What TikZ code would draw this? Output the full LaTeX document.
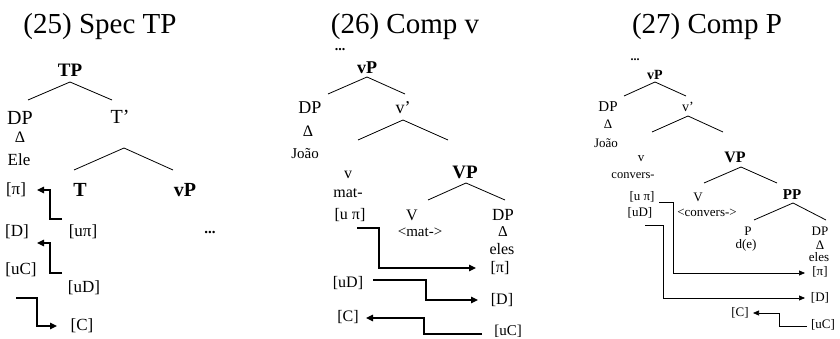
\documentclass[tikz,border=0pt]{standalone}
\usepackage{fontspec}
\setmainfont{Liberation Serif}
\usetikzlibrary{arrows.meta}
\newcommand{\fs}[1]{\fontsize{#1}{#1}\selectfont}
\begin{document}
\begin{tikzpicture}[x=1pt,y=-1pt,
  lbl/.style={inner sep=0pt, anchor=center},
  ttl/.style={lbl, font=\fs{29}},
  br/.style={line width=0.8pt},
  fa/.style={line width=1.1pt, -{Triangle[length=7pt,width=6.5pt]}},
  fb/.style={line width=0.7pt, -{Triangle[length=6pt,width=5pt]}}]
\useasboundingbox (0,0) rectangle (840,339);
% ---------------- Panel 1 ----------------
\node[ttl] (t1) at (100,27) {(25) Spec TP};
\node[lbl, font=\fs{19}\bfseries] (TP) at (70,70) {TP};
\node[lbl, font=\fs{20}] (DPa) at (20,118) {DP};
\node[lbl, font=\fs{20}] (Tbar) at (120,117) {T’};
\node[lbl, font=\fs{16}] (Da) at (20,137) {Δ};
\node[lbl, font=\fs{17}] (Ele) at (19,160) {Ele};
\node[lbl, font=\fs{20}\bfseries] (T) at (80,190) {T};
\node[lbl, font=\fs{20}\bfseries] (vPa) at (185,190) {vP};
\node[lbl, font=\fs{17}] (pia) at (16,190) {[π]};
\node[lbl, font=\fs{17}] (Dfa) at (17,232) {[D]};
\node[lbl, font=\fs{17}] (upia) at (83,232) {[uπ]};
\node[lbl, font=\fs{15}\bfseries] (dotsa) at (210,232) {...};
\node[lbl, font=\fs{17}] (uCa) at (21,270) {[uC]};
\node[lbl, font=\fs{17}] (uDa) at (84,288) {[uD]};
\node[lbl, font=\fs{17}] (Ca) at (82,326) {[C]};
\coordinate (TPa) at (70,82); \coordinate (TPl) at (28,100); \coordinate (TPr) at (112,100);
\coordinate (Tba) at (124,148); \coordinate (Tbl) at (74,170); \coordinate (Tbr) at (173,170);
\draw[br] (TPl) -- (TPa) -- (TPr);
\draw[br] (Tbl) -- (Tba) -- (Tbr);
\coordinate (a1s) at (62,219); \coordinate (a1e) at (37,190);
\coordinate (a2s) at (62,273); \coordinate (a2e) at (37,243);
\coordinate (a3s) at (16,298); \coordinate (a3e) at (57,326);
\draw[fa] (a1s) -- (50,219) |- (a1e);
\draw[fa] (a2s) -- (50,273) |- (a2e);
\draw[fa] (a3s) -- (37,298) |- (a3e);
% ---------------- Panel 2 ----------------
\node[ttl] (t2) at (405,27) {(26) Comp v};
\node[lbl, font=\fs{14}\bfseries] (dotsb) at (340,50) {...};
\node[lbl, font=\fs{18}\bfseries] (vPb) at (367,68) {vP};
\node[lbl, font=\fs{18}] (DPb) at (310,108) {DP};
\node[lbl, font=\fs{18}] (vbarb) at (403,108) {v’};
\node[lbl, font=\fs{16}] (Db) at (308,131) {Δ};
\node[lbl, font=\fs{15}] (Joaob) at (305,154) {João};
\node[lbl, font=\fs{16}] (vb) at (348,175) {v};
\node[lbl, font=\fs{19}\bfseries] (VPb) at (465,172) {VP};
\node[lbl, font=\fs{16}] (matb) at (348,193) {mat-};
\node[lbl, font=\fs{16}] (upib) at (350,215) {[u π]};
\node[lbl, font=\fs{16}] (Vb) at (412,215) {V};
\node[lbl, font=\fs{17}] (DPb2) at (503,215) {DP};
\node[lbl, font=\fs{15}] (matcb) at (420,232) {<mat->};
\node[lbl, font=\fs{15}] (Db2) at (503,232) {Δ};
\node[lbl, font=\fs{16}] (elesb) at (502,249) {eles};
\node[lbl, font=\fs{16}] (pib) at (500,268) {[π]};
\node[lbl, font=\fs{16}] (uDb) at (348,283) {[uD]};
\node[lbl, font=\fs{16}] (Dfb) at (502,300) {[D]};
\node[lbl, font=\fs{16}] (Cb) at (348,317) {[C]};
\node[lbl, font=\fs{15}] (uCb) at (508,331) {[uC]};
\coordinate (vPba) at (367,77); \coordinate (vPbl) at (328,94); \coordinate (vPbr) at (405,94);
\coordinate (vbba) at (403,120); \coordinate (vbbl) at (358,140); \coordinate (vbbr) at (448,140);
\coordinate (VPba) at (466,183); \coordinate (VPbl) at (428,200); \coordinate (VPbr) at (505,200);
\draw[br] (vPbl) -- (vPba) -- (vPbr);
\draw[br] (vbbl) -- (vbba) -- (vbbr);
\draw[br] (VPbl) -- (VPba) -- (VPbr);
\coordinate (b1s) at (357,228); \coordinate (b1e) at (476,268);
\coordinate (b2s) at (373,280); \coordinate (b2e) at (478,300);
\coordinate (b3s) at (482,334); \coordinate (b3e) at (366,318);
\draw[fa] (b1s) -- (379,228) |- (b1e);
\draw[fa] (b2s) -- (426,280) |- (b2e);
\draw[fa] (b3s) -- (424,334) |- (b3e);
% ---------------- Panel 3 ----------------
\node[ttl] (t3) at (707,27) {(27) Comp P};
\node[lbl, font=\fs{12}\bfseries] (dotsc) at (635,60) {...};
\node[lbl, font=\fs{14}\bfseries] (vPc) at (655,75) {vP};
\node[lbl, font=\fs{15}] (DPc) at (608,107) {DP};
\node[lbl, font=\fs{14}] (vbarc) at (688,107) {v’};
\node[lbl, font=\fs{13}] (Dc) at (608,124) {Δ};
\node[lbl, font=\fs{13}] (Joaoc) at (606,143) {João};
\node[lbl, font=\fs{13}] (vc) at (641,159) {v};
\node[lbl, font=\fs{16}\bfseries] (VPc) at (735,157) {VP};
\node[lbl, font=\fs{12.5}] (conv) at (633,176) {convers-};
\node[lbl, font=\fs{13}] (upic) at (642,197) {[u π]};
\node[lbl, font=\fs{13}] (Vc) at (698,197) {V};
\node[lbl, font=\fs{15}\bfseries] (PPc) at (792,195) {PP};
\node[lbl, font=\fs{13}] (uDc) at (640,213) {[uD]};
\node[lbl, font=\fs{13}] (convc) at (707,213) {<convers->};
\node[lbl, font=\fs{13}] (Pc) at (748,231) {P};
\node[lbl, font=\fs{13}] (dec) at (746,245) {d(e)};
\node[lbl, font=\fs{13}] (DPc2) at (820,231) {DP};
\node[lbl, font=\fs{13}] (Dc2) at (820,245) {Δ};
\node[lbl, font=\fs{13}] (elesc) at (819,257) {eles};
\node[lbl, font=\fs{13}] (pic) at (820,272) {[π]};
\node[lbl, font=\fs{13}] (Dfc) at (820,298) {[D]};
\node[lbl, font=\fs{13}] (Cc) at (740,313) {[C]};
\node[lbl, font=\fs{13}] (uCc) at (823,325) {[uC]};
\coordinate (vPca) at (655,82); \coordinate (vPcl) at (624,96); \coordinate (vPcr) at (686,96);
\coordinate (vbca) at (688,116); \coordinate (vbcl) at (652,132); \coordinate (vbcr) at (723,132);
\coordinate (VPca) at (741,167); \coordinate (VPcl) at (704,183); \coordinate (VPcr) at (777,183);
\coordinate (PPca) at (793,203); \coordinate (PPcl) at (754,220); \coordinate (PPcr) at (826,220);
\draw[br] (vPcl) -- (vPca) -- (vPcr);
\draw[br] (vbcl) -- (vbca) -- (vbcr);
\draw[br] (VPcl) -- (VPca) -- (VPcr);
\draw[br] (PPcl) -- (PPca) -- (PPcr);
\coordinate (c1s) at (659,202); \coordinate (c1e) at (805,273);
\coordinate (c2s) at (645,225); \coordinate (c2e) at (805,298);
\coordinate (c3s) at (807,326); \coordinate (c3e) at (753,313);
\draw[fb] (c1s) -- (673,202) |- (c1e);
\draw[fb] (c2s) -- (663,225) |- (c2e);
\draw[fb] (c3s) -- (779,326) |- (c3e);
\end{tikzpicture}
\end{document}
